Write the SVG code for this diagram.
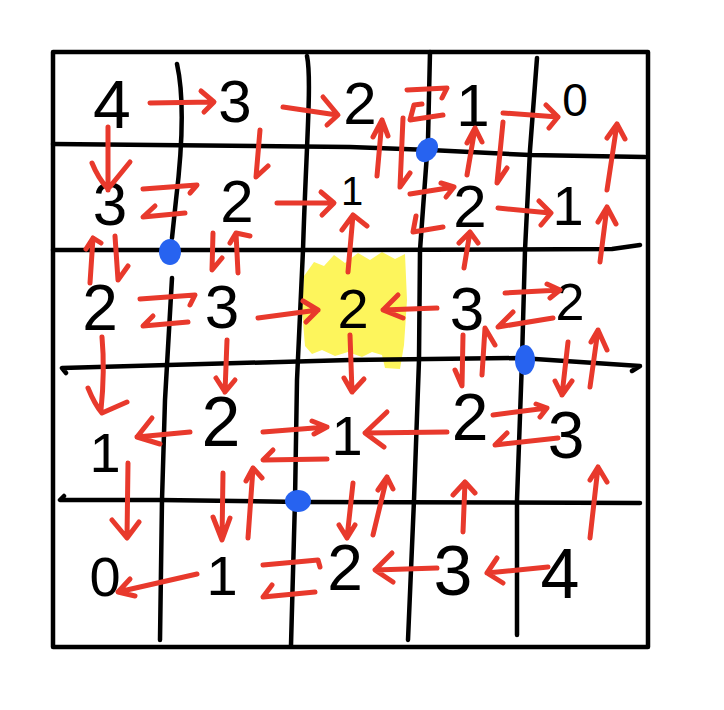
<svg xmlns="http://www.w3.org/2000/svg" width="724" height="710" viewBox="0 0 724 710">
<style>
.grid{fill:none;stroke:#000;stroke-width:4.5;stroke-linecap:round;stroke-linejoin:round}
.arr{fill:none;stroke:#e8392c;stroke-width:5;stroke-linecap:round;stroke-linejoin:round}
.dot{fill:#2763f0}
.num{font-family:"Liberation Sans",Arial,sans-serif;fill:#000;text-anchor:middle}
</style>
<rect width="724" height="710" fill="#fff"/>
<g id="highlight">
<polygon fill="#fdf55c" points="304,276 314,262 324,266 334,255 345,263 358,253 370,260 382,252 395,259 405,254 407,300 404,345 400,369 385,368 382,355 372,352 362,357 348,352 335,356 322,350 312,354 305,346 302,310"/>
</g>
<g id="grid">
<path class="grid" d="M53,52 L648,52 L648,647 L53,647 Z"/>
<path class="grid" d="M177,64 C185,100 182,150 176,200 L172,238 M172,278 L165,400 L162,500 L160,640"/>
<path class="grid" d="M307,56 C312,80 306,150 303,250 L297,380 L295,500 L291,645"/>
<path class="grid" d="M430,52 L428,140 L420,250 L419,360 L414,500 L408,640"/>
<path class="grid" d="M537,58 L530,150 L525,250 L522,360 L517,500 L517,635"/>
<path class="grid" d="M53,144 L350,147 L430,150 L530,155 L645,157"/>
<path class="grid" d="M53,250 L350,250 L612,249 L640,245"/>
<path class="grid" d="M66,373 L62,368 L350,360 L520,358 L640,366 L632,371"/>
<path class="grid" d="M64,496 L60,500 L160,500 L300,502 L640,503"/>
</g>
<g id="corners">
<ellipse class="dot" cx="427" cy="150" rx="10" ry="13" transform="rotate(35 427 150)"/>
<ellipse class="dot" cx="170" cy="252" rx="11" ry="13"/>
<ellipse class="dot" cx="525" cy="360" rx="10" ry="15"/>
<ellipse class="dot" cx="298" cy="501" rx="13" ry="11"/>
</g>
<g id="cell-r0c0"><text class="num" x="112" y="128" font-size="68">4</text></g>
<g id="cell-r0c1"><text class="num" x="235" y="122" font-size="60">3</text></g>
<g id="cell-r0c2"><text class="num" x="360" y="124" font-size="60">2</text></g>
<g id="cell-r0c3"><text class="num" x="473" y="126" font-size="60">1</text></g>
<g id="cell-r0c4"><text class="num" x="575" y="116" font-size="46">0</text></g>
<g id="cell-r1c0"><text class="num" x="110" y="225" font-size="62">3</text></g>
<g id="cell-r1c1"><text class="num" x="237" y="222" font-size="60">2</text></g>
<g id="cell-r1c2"><text class="num" x="352" y="205" font-size="40">1</text></g>
<g id="cell-r1c3"><text class="num" x="470" y="227" font-size="60">2</text></g>
<g id="cell-r1c4"><text class="num" x="568" y="225" font-size="56">1</text></g>
<g id="cell-r2c0"><text class="num" x="100" y="330" font-size="64">2</text></g>
<g id="cell-r2c1"><text class="num" x="222" y="328" font-size="62">3</text></g>
<g id="cell-r2c2"><text class="num" x="353" y="328" font-size="56">2</text></g>
<g id="cell-r2c3"><text class="num" x="467" y="330" font-size="62">3</text></g>
<g id="cell-r2c4"><text class="num" x="570" y="320" font-size="52">2</text></g>
<g id="cell-r3c0"><text class="num" x="105" y="472" font-size="56">1</text></g>
<g id="cell-r3c1"><text class="num" x="221" y="446" font-size="70">2</text></g>
<g id="cell-r3c2"><text class="num" x="347" y="455" font-size="56">1</text></g>
<g id="cell-r3c3"><text class="num" x="470" y="440" font-size="66">2</text></g>
<g id="cell-r3c4"><text class="num" x="566" y="458" font-size="66">3</text></g>
<g id="cell-r4c0"><text class="num" x="105" y="596" font-size="56">0</text></g>
<g id="cell-r4c1"><text class="num" x="222" y="595" font-size="56">1</text></g>
<g id="cell-r4c2"><text class="num" x="345" y="590" font-size="64">2</text></g>
<g id="cell-r4c3"><text class="num" x="453" y="595" font-size="70">3</text></g>
<g id="cell-r4c4"><text class="num" x="560" y="598" font-size="70">4</text></g>
<g id="connectors" class="arr">
<path d="M150,103 L213,102 M201,91 L214,102 L204,112"/>
<path d="M283,107 L337,115 M323,97 L338,115 L327,125"/>
<path d="M407,90 L447,88 L442,98"/>
<path d="M443,115 L410,120 L414,105 L422,104"/>
<path d="M503,113 L558,117 M546,105 L558,117 L549,128"/>
<path d="M108,127 L108,190 M92,163 Q98,178 108,189 L130,162"/>
<path d="M260,130 L256,177 L268,166"/>
<path d="M377,176 L382,120 M373,137 L382,120 L388,136"/>
<path d="M403,118 L400,187 L410,173"/>
<path d="M467,175 L475,128 M467,143 L475,128 L482,142"/>
<path d="M503,122 L497,183 L507,168"/>
<path d="M143,189 L197,185 L190,193"/>
<path d="M185,213 L143,217 L155,206"/>
<path d="M277,203 L333,203 M321,192 L334,203 L322,215"/>
<path d="M410,194 L454,187 M441,183 L454,187 L446,197"/>
<path d="M443,227 L413,232 L416,216"/>
<path d="M498,208 L550,213 M539,201 L551,213 L541,225"/>
<path d="M607,190 L617,124 M607,138 L617,124 L625,139"/>
<path d="M90,283 L93,238 M86,249 L93,238 L101,243"/>
<path d="M115,236 L118,280 L128,266"/>
<path d="M213,233 L212,270 L222,258"/>
<path d="M238,273 L236,233 M230,243 L236,233 L250,236"/>
<path d="M348,272 L353,215 M342,230 L353,215 L367,226"/>
<path d="M464,268 L470,232 M459,243 L470,232 L478,243"/>
<path d="M600,262 L607,207 M598,222 L607,207 L616,224"/>
<path d="M140,299 L195,295 L190,305"/>
<path d="M188,322 L143,326 L153,316"/>
<path d="M258,318 L318,310 M303,301 L318,310 L306,322"/>
<path d="M437,308 L383,310 M398,295 L383,310 L403,318"/>
<path d="M505,293 L560,290 M547,284 L560,290 L550,298"/>
<path d="M553,318 L498,327 L513,312"/>
<path d="M102,337 Q105,370 101,410 M88,388 Q95,405 102,413 L127,402"/>
<path d="M227,340 L225,392 M216,378 L225,392 L235,380"/>
<path d="M350,335 L352,392 M344,378 L352,392 L364,379"/>
<path d="M463,335 L462,386 L455,370"/>
<path d="M482,375 L485,328 L495,345"/>
<path d="M568,342 L562,395 M555,381 L562,395 L572,381"/>
<path d="M590,387 L598,330 M591,342 L598,330 L607,350"/>
<path d="M190,432 L137,437 M152,418 L137,437 L160,444"/>
<path d="M263,432 L327,427 M312,421 L327,427 L314,434"/>
<path d="M327,459 L263,460 L273,450"/>
<path d="M447,432 L365,433 M387,412 L365,433 L384,447"/>
<path d="M493,415 L547,408 M536,404 L547,408 L540,417"/>
<path d="M558,438 L495,445 L507,433"/>
<path d="M128,463 L127,538 M112,520 L127,538 L139,522"/>
<path d="M223,473 L222,540 M213,517 L222,540 L230,518"/>
<path d="M248,538 L253,468 M246,481 L253,468 L262,478"/>
<path d="M353,483 L347,538 M339,525 L347,538 L355,525"/>
<path d="M373,535 L387,477 M378,490 L387,477 L393,489"/>
<path d="M463,532 L465,482 M453,495 L465,482 L475,493"/>
<path d="M590,538 L598,467 M590,480 L598,467 L607,482"/>
<path d="M197,574 L118,592 M130,579 L118,592 L135,596"/>
<path d="M263,565 L318,560 L320,567"/>
<path d="M315,592 L263,597 L272,585"/>
<path d="M437,568 L375,570 M392,553 L375,570 L393,582"/>
<path d="M548,567 L487,573 M497,558 L487,573 L503,583"/>
</g>
</svg>
